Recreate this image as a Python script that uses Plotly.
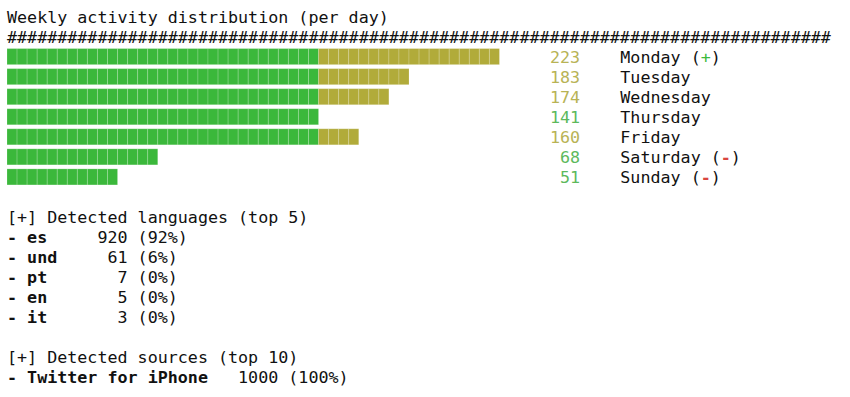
import numpy as np
import plotly.graph_objects as go

# ---------------- data ----------------
title = "Weekly activity distribution (per day)"
days = ["Monday", "Tuesday", "Wednesday", "Thursday", "Friday", "Saturday", "Sunday"]
day_counts = [223, 183, 174, 141, 160, 68, 51]

lang_codes = ["es", "und", "pt", "en", "it"]
lang_counts = [920, 61, 7, 5, 3]

source_names = ["Twitter for iPhone"]
source_counts = [1000]

# ---------------- style ----------------
FONT = "DejaVu Sans Mono"
FSIZE = 16.7
BLACK = "#111111"
BAR_GREEN = "#3bb83b"
BAR_YELLOW = "#b1ab3a"
NUM_GREEN = "#5cb95c"
NUM_YELLOW = "#b8b355"
SIGN_GREEN = "#3cba3c"
SIGN_RED = "#d9453f"
NB = "\u00a0"

MAX_BLOCKS = 49
HASH_LEN = 82

mean = np.mean(day_counts)
median = np.median(day_counts)
vmax = max(day_counts)

fig = go.Figure()

# bars made of character-cell blocks
gx, gy, gb, yx, yy, yb = [], [], [], [], [], []
day_rows = list(range(2, 2 + len(days)))
green_cap = round(int(mean) * MAX_BLOCKS / vmax)
for row, v in zip(day_rows, day_counts):
    n = round(v * MAX_BLOCKS / vmax)
    ng = min(n, green_cap)
    for i in range(n):
        if i < ng:
            gx.append(1); gy.append(row); gb.append(i)
        else:
            yx.append(1); yy.append(row); yb.append(i)

line = dict(color="rgba(255,255,255,0.18)", width=1)
fig.add_trace(go.Bar(x=gx, y=gy, base=gb, orientation="h", width=0.8,
                     marker=dict(color=BAR_GREEN, line=line), hoverinfo="skip"))
fig.add_trace(go.Bar(x=yx, y=yy, base=yb, orientation="h", width=0.8,
                     marker=dict(color=BAR_YELLOW, line=line), hoverinfo="skip"))

texts = []  # (row, col, html)
texts.append((0, 0, title.replace(" ", NB)))
texts.append((1, 0, "#" * HASH_LEN))
for row, d, v in zip(day_rows, days, day_counts):
    numcol = NUM_YELLOW if v > int(mean) else NUM_GREEN
    if v >= median * 1.33:
        lab = f"{d}{NB}(<span style='color:{SIGN_GREEN}'>+</span>)"
    elif v <= median * 0.66:
        lab = f"{d}{NB}(<span style='color:{SIGN_RED}'><b>-</b></span>)"
    else:
        lab = d
    s = f"<span style='color:{numcol}'>{str(v).rjust(3, NB)}</span>" + NB * 4 + lab
    texts.append((row, 54, s))

texts.append((10, 0, f"[+]{NB}Detected{NB}languages{NB}(top{NB}5)"))
klen = max(len(k) for k in lang_codes)
for i, (k, c) in enumerate(zip(lang_codes, lang_counts)):
    pct = int(c * 100 / 1000)
    s = f"<b>-{NB}{k.ljust(klen, NB)}</b>" + NB * 3 + str(c).rjust(4, NB) + f"{NB}({pct}%)"
    texts.append((11 + i, 0, s))

texts.append((17, 0, f"[+]{NB}Detected{NB}sources{NB}(top{NB}10)"))
slen = max(len(k) for k in source_names)
for i, (k, c) in enumerate(zip(source_names, source_counts)):
    pct = int(c * 100 / 1000)
    s = f"<b>-{NB}{k.replace(' ', NB).ljust(slen, NB)}</b>" + NB * 3 + str(c).rjust(4, NB) + f"{NB}({pct}%)"
    texts.append((18 + i, 0, s))

for row, col, s in texts:
    fig.add_annotation(x=col, y=row, text=s, showarrow=False,
                       xanchor="left", yanchor="middle", borderpad=0, borderwidth=0,
                       font=dict(family=FONT, size=FSIZE, color=BLACK))

CW = 10.05  # px per column
X0 = 7.0    # px of column 0
RH = 20.05  # px per row
Y0 = 16.5   # px of row 0 centre
W, H = 850, 397

fig.update_layout(
    width=W, height=H, margin=dict(l=0, r=0, t=0, b=0),
    paper_bgcolor="white", plot_bgcolor="white",
    barmode="overlay", showlegend=False,
    xaxis=dict(range=[-X0 / CW, (W - X0) / CW], visible=False, fixedrange=True),
    yaxis=dict(range=[(H - Y0) / RH, -Y0 / RH], visible=False, fixedrange=True),
)

fig.write_html("out.html")
